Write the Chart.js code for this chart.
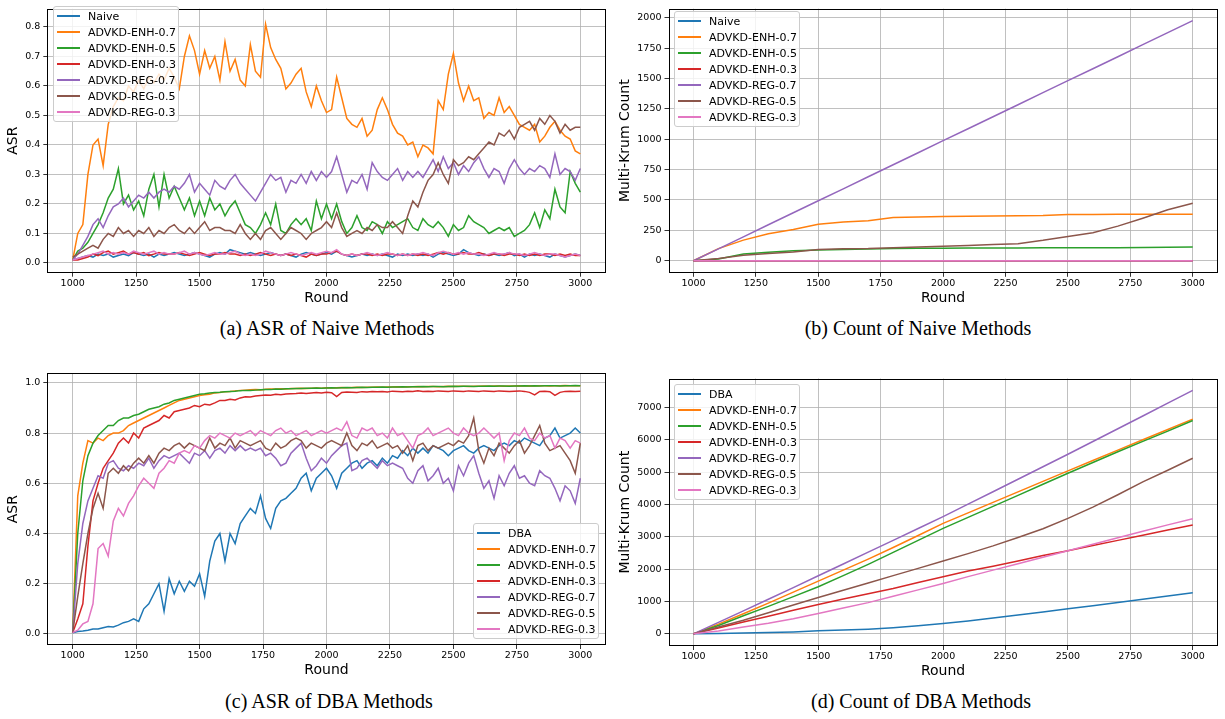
<!DOCTYPE html>
<html>
<head>
<meta charset="utf-8">
<script src="https://cdn.jsdelivr.net/npm/chart.js@4.4.1/dist/chart.umd.min.js"></script>
<style>
  body { margin: 0; background: #fff; width: 1225px; height: 719px; position: relative; overflow: hidden; }
  .panel { position: absolute; }
  .legend { position: absolute; width: 126px; height: 116px; box-sizing: border-box; padding-top: 1px;
            background: rgba(255,255,255,0.8); border: 1px solid #cccccc; border-radius: 3px;
            font-family: "DejaVu Sans"; font-size: 11px; color: #000; }
  .legend .row { height: 16px; display: flex; align-items: center; white-space: nowrap; }
  .legend .swatch { display: block; flex: none; width: 23px; height: 2px; margin-left: 3px; margin-right: 8px; }
  .caption { position: absolute; font-family: "Liberation Serif"; font-size: 20px; color: #000;
             transform: translate(-50%, -50%); white-space: nowrap; }
</style>
</head>
<body>
<div class="panel" style="left:0px;top:0px"><canvas id="chartA" width="612" height="312"></canvas></div>
<div class="panel" style="left:612px;top:0px"><canvas id="chartB" width="613" height="312"></canvas></div>
<div class="panel" style="left:0px;top:362px"><canvas id="chartC" width="612" height="322"></canvas></div>
<div class="panel" style="left:612px;top:362px"><canvas id="chartD" width="613" height="323"></canvas></div>
<div class="legend" id="legA" style="left:53px;top:6px"></div>
<div class="legend" id="legB" style="left:674px;top:11px"></div>
<div class="legend" id="legC" style="left:473px;top:523px"></div>
<div class="legend" id="legD" style="left:674px;top:384px"></div>
<div class="caption" style="left:327px;top:328px">(a) ASR of Naive Methods</div>
<div class="caption" style="left:918px;top:328px">(b) Count of Naive Methods</div>
<div class="caption" style="left:329px;top:701px">(c) ASR of DBA Methods</div>
<div class="caption" style="left:921px;top:701px">(d) Count of DBA Methods</div>
<script>
// rounds: ASR sampled every 20 rounds, counts every 100 rounds
const roundsFine = [];
for (let r = 1000; r <= 3000; r += 20) roundsFine.push(r);
const roundsCoarse = [];
for (let r = 1000; r <= 3000; r += 100) roundsCoarse.push(r);

const roundTicks = [1000, 1250, 1500, 1750, 2000, 2250, 2500, 2750, 3000];
const asrTicksA = [0, 0.1, 0.2, 0.3, 0.4, 0.5, 0.6, 0.7, 0.8];
const asrTicksC = [0, 0.2, 0.4, 0.6, 0.8, 1.0];
const countTicksB = [0, 250, 500, 750, 1000, 1250, 1500, 1750, 2000];
const countTicksD = [0, 1000, 2000, 3000, 4000, 5000, 6000, 7000];

const colors = ['#1f77b4', '#ff7f0e', '#2ca02c', '#d62728', '#9467bd', '#8c564b', '#e377c2'];
const namesNaive = ['Naive', 'ADVKD-ENH-0.7', 'ADVKD-ENH-0.5', 'ADVKD-ENH-0.3', 'ADVKD-REG-0.7', 'ADVKD-REG-0.5', 'ADVKD-REG-0.3'];
const namesDba = ['DBA', 'ADVKD-ENH-0.7', 'ADVKD-ENH-0.5', 'ADVKD-ENH-0.3', 'ADVKD-REG-0.7', 'ADVKD-REG-0.5', 'ADVKD-REG-0.3'];

// (a) ASR of naive methods
const naiveAsr = [
  0.01, 0.015, 0.02, 0.025, 0.02, 0.03, 0.025, 0.03, 0.02, 0.025,
  0.03, 0.025, 0.035, 0.03, 0.025, 0.03, 0.02, 0.03, 0.025, 0.03,
  0.035, 0.03, 0.025, 0.03, 0.035, 0.03, 0.025, 0.02, 0.03, 0.035,
  0.03, 0.045, 0.04, 0.035, 0.03, 0.035, 0.03, 0.025, 0.03, 0.035,
  0.03, 0.025, 0.03, 0.025, 0.02, 0.03, 0.035, 0.03, 0.025, 0.03,
  0.035, 0.03, 0.04, 0.03, 0.025, 0.02, 0.025, 0.03, 0.025, 0.03,
  0.025, 0.03, 0.025, 0.02, 0.03, 0.025, 0.03, 0.025, 0.03, 0.025,
  0.03, 0.02, 0.03, 0.035, 0.03, 0.025, 0.03, 0.045, 0.035, 0.03,
  0.025, 0.03, 0.025, 0.03, 0.025, 0.03, 0.035, 0.025, 0.03, 0.02,
  0.03, 0.025, 0.03, 0.025, 0.02, 0.03, 0.025, 0.02, 0.025, 0.03,
  0.025];
const enh07Asr = [
  0.01, 0.10, 0.13, 0.30, 0.40, 0.42, 0.33, 0.47, 0.53, 0.56,
  0.55, 0.60, 0.58, 0.62, 0.59, 0.63, 0.61, 0.64, 0.62, 0.66,
  0.63, 0.59, 0.70, 0.77, 0.72, 0.64, 0.72, 0.66, 0.70, 0.62,
  0.75, 0.65, 0.69, 0.62, 0.60, 0.74, 0.65, 0.63, 0.81, 0.73,
  0.69, 0.66, 0.59, 0.61, 0.64, 0.66, 0.58, 0.53, 0.60, 0.55,
  0.51, 0.52, 0.63, 0.56, 0.49, 0.47, 0.46, 0.49, 0.43, 0.45,
  0.52, 0.56, 0.52, 0.47, 0.44, 0.43, 0.40, 0.41, 0.36, 0.40,
  0.39, 0.37, 0.55, 0.52, 0.64, 0.71, 0.61, 0.55, 0.60, 0.55,
  0.56, 0.49, 0.51, 0.50, 0.56, 0.51, 0.53, 0.50, 0.47, 0.46,
  0.45, 0.47, 0.41, 0.43, 0.46, 0.48, 0.45, 0.43, 0.42, 0.38,
  0.37];
const enh05Asr = [
  0.01, 0.04, 0.05, 0.07, 0.10, 0.13, 0.17, 0.22, 0.25, 0.32,
  0.20, 0.23, 0.18, 0.21, 0.16, 0.25, 0.30, 0.19, 0.30, 0.22,
  0.26, 0.22, 0.18, 0.22, 0.16, 0.21, 0.16, 0.22, 0.18, 0.20,
  0.16, 0.19, 0.21, 0.17, 0.13, 0.12, 0.10, 0.13, 0.17, 0.13,
  0.20, 0.11, 0.10, 0.13, 0.15, 0.13, 0.15, 0.11, 0.21, 0.15,
  0.20, 0.15, 0.20, 0.14, 0.10, 0.12, 0.16, 0.12, 0.11, 0.14,
  0.13, 0.10, 0.14, 0.12, 0.13, 0.14, 0.15, 0.12, 0.11, 0.15,
  0.13, 0.12, 0.14, 0.12, 0.09, 0.13, 0.11, 0.12, 0.16, 0.14,
  0.13, 0.12, 0.10, 0.11, 0.12, 0.11, 0.12, 0.09, 0.10, 0.11,
  0.13, 0.17, 0.12, 0.18, 0.15, 0.25, 0.19, 0.17, 0.31, 0.27,
  0.24];
const enh03Asr = [
  0.01, 0.01, 0.015, 0.02, 0.03, 0.025, 0.035, 0.04, 0.03, 0.035,
  0.04, 0.03, 0.035, 0.03, 0.035, 0.025, 0.03, 0.035, 0.03, 0.03,
  0.03, 0.035, 0.03, 0.025, 0.03, 0.035, 0.03, 0.025, 0.03, 0.03,
  0.035, 0.03, 0.03, 0.025, 0.03, 0.025, 0.03, 0.035, 0.03, 0.025,
  0.03, 0.025, 0.03, 0.025, 0.03, 0.025, 0.02, 0.03, 0.025, 0.03,
  0.03, 0.035, 0.04, 0.03, 0.025, 0.03, 0.025, 0.03, 0.03, 0.025,
  0.03, 0.025, 0.03, 0.03, 0.025, 0.03, 0.025, 0.03, 0.025, 0.03,
  0.025, 0.03, 0.035, 0.03, 0.035, 0.03, 0.03, 0.035, 0.03, 0.03,
  0.035, 0.03, 0.025, 0.03, 0.03, 0.025, 0.03, 0.03, 0.025, 0.03,
  0.025, 0.03, 0.025, 0.03, 0.03, 0.025, 0.03, 0.025, 0.03, 0.025,
  0.025];
const reg07Asr = [
  0.01, 0.03, 0.06, 0.09, 0.13, 0.15, 0.12, 0.16, 0.19, 0.20,
  0.22, 0.19, 0.21, 0.23, 0.22, 0.24, 0.22, 0.24, 0.25, 0.24,
  0.26, 0.25, 0.27, 0.30, 0.24, 0.27, 0.25, 0.23, 0.28, 0.26,
  0.25, 0.28, 0.30, 0.27, 0.25, 0.23, 0.21, 0.24, 0.27, 0.30,
  0.28, 0.29, 0.24, 0.28, 0.27, 0.30, 0.27, 0.31, 0.28, 0.31,
  0.29, 0.31, 0.36, 0.30, 0.24, 0.28, 0.27, 0.30, 0.25, 0.34,
  0.31, 0.29, 0.28, 0.30, 0.32, 0.28, 0.31, 0.29, 0.31, 0.29,
  0.32, 0.35, 0.31, 0.36, 0.32, 0.34, 0.30, 0.33, 0.31, 0.34,
  0.36, 0.32, 0.29, 0.32, 0.31, 0.27, 0.32, 0.35, 0.32, 0.30,
  0.32, 0.31, 0.33, 0.32, 0.29, 0.37, 0.30, 0.32, 0.31, 0.28,
  0.32];
const reg05Asr = [
  0.02, 0.03, 0.04, 0.05, 0.06, 0.05, 0.08, 0.10, 0.09, 0.12,
  0.10, 0.11, 0.09, 0.11, 0.10, 0.12, 0.09, 0.11, 0.10, 0.12,
  0.13, 0.11, 0.10, 0.12, 0.10, 0.12, 0.14, 0.11, 0.12, 0.12,
  0.11, 0.11, 0.10, 0.13, 0.10, 0.08, 0.10, 0.08, 0.11, 0.12,
  0.10, 0.08, 0.10, 0.12, 0.11, 0.10, 0.08, 0.10, 0.11, 0.12,
  0.14, 0.12, 0.17, 0.12, 0.09, 0.10, 0.11, 0.10, 0.12, 0.11,
  0.13, 0.12, 0.12, 0.14, 0.12, 0.10, 0.16, 0.21, 0.19, 0.24,
  0.28, 0.30, 0.34, 0.30, 0.27, 0.35, 0.33, 0.34, 0.36, 0.35,
  0.37, 0.39, 0.41, 0.40, 0.44, 0.43, 0.45, 0.42, 0.46, 0.47,
  0.48, 0.45, 0.49, 0.47, 0.50, 0.48, 0.44, 0.47, 0.45, 0.46,
  0.46];
const reg03Asr = [
  0.01, 0.015, 0.02, 0.025, 0.03, 0.035, 0.04, 0.03, 0.035, 0.03,
  0.035, 0.03, 0.04, 0.035, 0.03, 0.035, 0.04, 0.03, 0.035, 0.03,
  0.03, 0.035, 0.04, 0.03, 0.035, 0.03, 0.025, 0.03, 0.035, 0.03,
  0.03, 0.035, 0.04, 0.03, 0.025, 0.03, 0.025, 0.03, 0.04, 0.035,
  0.03, 0.025, 0.03, 0.035, 0.03, 0.025, 0.03, 0.035, 0.03, 0.035,
  0.04, 0.035, 0.045, 0.03, 0.025, 0.03, 0.025, 0.03, 0.035, 0.03,
  0.025, 0.03, 0.035, 0.03, 0.025, 0.03, 0.025, 0.03, 0.03, 0.035,
  0.03, 0.025, 0.035, 0.04, 0.035, 0.03, 0.035, 0.03, 0.035, 0.03,
  0.03, 0.025, 0.03, 0.035, 0.03, 0.03, 0.035, 0.03, 0.03, 0.025,
  0.03, 0.035, 0.03, 0.025, 0.03, 0.03, 0.025, 0.02, 0.025, 0.03,
  0.025];

// (b) Multi-Krum count of naive methods
const naiveCount = [0, 0, 0, 0, 0, 0, 0, 0, 0, 0, 0, 0, 0, 0, 0, 0, 0, 0, 0, 0, 0];
const enh07CountN = [0, 100, 170, 222, 258, 300, 318, 330, 356, 360, 364, 366, 368, 370, 372, 380, 381, 382, 382, 382, 382];
const enh05CountN = [0, 14, 55, 70, 82, 88, 92, 96, 100, 102, 104, 105, 106, 106, 107, 107, 108, 108, 109, 111, 114];
const enh03CountN = [0, 0, 0, 0, 0, 0, 0, 0, 0, 0, 0, 0, 0, 0, 0, 0, 0, 0, 0, 0, 0];
const reg07CountN = [0, 98, 197, 296, 395, 494, 592, 691, 790, 889, 988, 1086, 1185, 1284, 1383, 1482, 1580, 1679, 1778, 1877, 1976];
const reg05CountN = [0, 19, 46, 60, 73, 92, 98, 100, 108, 114, 119, 125, 133, 141, 168, 200, 230, 285, 350, 420, 474];
const reg03CountN = [0, 0, 0, 0, 0, 0, 0, 0, 0, 0, 0, 0, 0, 0, 0, 0, 0, 0, 0, 0, 0];

// (c) ASR of DBA methods
const dbaAsr = [
  0.005, 0.01, 0.012, 0.015, 0.02, 0.02, 0.025, 0.03, 0.028, 0.035,
  0.045, 0.05, 0.06, 0.05, 0.10, 0.12, 0.16, 0.20, 0.09, 0.22,
  0.16, 0.21, 0.17, 0.21, 0.19, 0.24, 0.15, 0.29, 0.37, 0.40,
  0.29, 0.40, 0.36, 0.44, 0.47, 0.50, 0.48, 0.55, 0.46, 0.42,
  0.50, 0.53, 0.54, 0.56, 0.58, 0.62, 0.64, 0.57, 0.62, 0.64,
  0.66, 0.63, 0.58, 0.64, 0.66, 0.68, 0.69, 0.66, 0.68, 0.69,
  0.67, 0.70, 0.68, 0.71, 0.70, 0.73, 0.71, 0.74, 0.72, 0.74,
  0.72, 0.75, 0.74, 0.73, 0.71, 0.73, 0.74, 0.75, 0.73, 0.72,
  0.74, 0.75, 0.74, 0.73, 0.75, 0.76, 0.75, 0.77, 0.76, 0.78,
  0.77, 0.76, 0.75, 0.78, 0.79, 0.82, 0.78, 0.79, 0.80, 0.82,
  0.80];
const enh07AsrD = [
  0.005, 0.55, 0.68, 0.77, 0.76, 0.78, 0.77, 0.79, 0.80, 0.80,
  0.81, 0.83, 0.84, 0.85, 0.86, 0.87, 0.88, 0.89, 0.90, 0.91,
  0.92, 0.93, 0.935, 0.94, 0.945, 0.95, 0.953, 0.955, 0.96, 0.962,
  0.965, 0.966, 0.968, 0.97, 0.971, 0.972, 0.973, 0.972, 0.974, 0.975,
  0.975, 0.976, 0.975, 0.977, 0.977, 0.978, 0.977, 0.978, 0.979, 0.978,
  0.98, 0.979, 0.98, 0.981, 0.98, 0.981, 0.982, 0.981, 0.982, 0.982,
  0.983, 0.982, 0.983, 0.983, 0.984, 0.983, 0.984, 0.984, 0.985, 0.984,
  0.985, 0.985, 0.984, 0.985, 0.986, 0.985, 0.986, 0.986, 0.985, 0.986,
  0.986, 0.987, 0.986, 0.987, 0.987, 0.986, 0.987, 0.987, 0.988, 0.987,
  0.988, 0.987, 0.988, 0.988, 0.987, 0.988, 0.988, 0.989, 0.988, 0.988,
  0.988];
const enh05AsrD = [
  0.005, 0.40, 0.61, 0.71, 0.76, 0.79, 0.81, 0.83, 0.83, 0.85,
  0.86, 0.86, 0.87, 0.875, 0.885, 0.895, 0.90, 0.905, 0.915, 0.92,
  0.93, 0.935, 0.94, 0.945, 0.95, 0.955, 0.957, 0.96, 0.962, 0.963,
  0.965, 0.966, 0.967, 0.969, 0.97, 0.97, 0.971, 0.972, 0.973, 0.973,
  0.975, 0.974, 0.976, 0.976, 0.977, 0.977, 0.978, 0.978, 0.979, 0.978,
  0.979, 0.98, 0.979, 0.98, 0.981, 0.98, 0.981, 0.982, 0.981, 0.982,
  0.982, 0.983, 0.982, 0.983, 0.983, 0.984, 0.983, 0.984, 0.984, 0.985,
  0.984, 0.985, 0.985, 0.984, 0.985, 0.986, 0.985, 0.986, 0.986, 0.985,
  0.986, 0.986, 0.987, 0.986, 0.987, 0.987, 0.986, 0.987, 0.987, 0.988,
  0.987, 0.988, 0.987, 0.988, 0.988, 0.988, 0.987, 0.988, 0.988, 0.989,
  0.988];
const enh03AsrD = [
  0.005, 0.06, 0.12, 0.35, 0.53, 0.60, 0.66, 0.69, 0.72, 0.76,
  0.78, 0.76, 0.80, 0.78, 0.82, 0.83, 0.84, 0.85, 0.87, 0.86,
  0.885, 0.89, 0.895, 0.90, 0.91, 0.905, 0.915, 0.912, 0.92, 0.93,
  0.93, 0.935, 0.932, 0.94, 0.945, 0.944, 0.948, 0.95, 0.952, 0.951,
  0.955, 0.953, 0.956, 0.957, 0.958, 0.96, 0.958, 0.96, 0.962, 0.96,
  0.963, 0.961, 0.945, 0.962, 0.964, 0.963, 0.962, 0.965, 0.964, 0.966,
  0.965, 0.966, 0.964, 0.967, 0.966, 0.965, 0.967, 0.966, 0.968, 0.966,
  0.967, 0.966, 0.968, 0.967, 0.966, 0.968, 0.967, 0.966, 0.968, 0.967,
  0.966, 0.968, 0.967, 0.966, 0.968, 0.967, 0.966, 0.967, 0.968, 0.966,
  0.962, 0.952, 0.966, 0.967, 0.965, 0.95, 0.962, 0.966, 0.967, 0.966,
  0.967];
const reg07AsrD = [
  0.005, 0.28, 0.44, 0.53, 0.58, 0.63, 0.62, 0.68, 0.69, 0.66,
  0.65, 0.67, 0.66, 0.68, 0.67, 0.70, 0.66, 0.69, 0.71, 0.70,
  0.71, 0.72, 0.70, 0.68, 0.72, 0.71, 0.73, 0.70, 0.73, 0.74,
  0.72, 0.75, 0.73, 0.75, 0.73, 0.74, 0.73, 0.74, 0.71, 0.72,
  0.70, 0.67, 0.68, 0.72, 0.74, 0.76, 0.70, 0.65, 0.67, 0.70,
  0.68, 0.71, 0.73, 0.75, 0.76, 0.65, 0.66, 0.69, 0.70, 0.68,
  0.66, 0.69, 0.67, 0.68, 0.67, 0.66, 0.62, 0.60, 0.65, 0.67,
  0.61, 0.63, 0.66, 0.60, 0.62, 0.57, 0.67, 0.63, 0.68, 0.71,
  0.64, 0.58, 0.61, 0.54, 0.63, 0.59, 0.64, 0.67, 0.62, 0.63,
  0.60, 0.59, 0.65, 0.63, 0.62, 0.58, 0.53, 0.59, 0.57, 0.52,
  0.62];
const reg05AsrD = [
  0.005, 0.15, 0.28, 0.40, 0.50, 0.56, 0.50, 0.64, 0.66, 0.64,
  0.67, 0.65, 0.68, 0.70, 0.68, 0.71, 0.68, 0.72, 0.74, 0.73,
  0.75, 0.76, 0.74, 0.76, 0.75, 0.74, 0.73, 0.78, 0.74, 0.76,
  0.75, 0.78, 0.74, 0.77, 0.76, 0.75, 0.76, 0.77, 0.74, 0.73,
  0.76, 0.74, 0.75, 0.77, 0.78, 0.77, 0.74, 0.76, 0.75, 0.74,
  0.76, 0.77, 0.76, 0.75, 0.80, 0.75, 0.73, 0.76, 0.75, 0.77,
  0.74, 0.75, 0.76, 0.74, 0.75, 0.72, 0.75, 0.69, 0.75, 0.76,
  0.73, 0.75, 0.74, 0.75, 0.76, 0.75, 0.77, 0.76, 0.79, 0.86,
  0.73, 0.68, 0.74, 0.71, 0.76, 0.74, 0.72, 0.75, 0.77, 0.72,
  0.75, 0.79, 0.83, 0.76, 0.73, 0.74, 0.75, 0.72, 0.69, 0.64,
  0.76];
const reg03AsrD = [
  0.005, 0.015, 0.04, 0.05, 0.12, 0.34, 0.36, 0.31, 0.45, 0.50,
  0.47, 0.52, 0.55, 0.59, 0.62, 0.60, 0.58, 0.64, 0.66, 0.69,
  0.68, 0.72, 0.73, 0.72, 0.75, 0.74, 0.77, 0.79, 0.78, 0.80,
  0.79, 0.78, 0.80, 0.79, 0.80, 0.81, 0.79, 0.81, 0.80, 0.79,
  0.81, 0.82, 0.80, 0.81, 0.79, 0.80, 0.81, 0.79, 0.80, 0.81,
  0.80, 0.81, 0.82, 0.81, 0.845, 0.79, 0.78, 0.82, 0.81, 0.82,
  0.79, 0.80, 0.78, 0.82, 0.79, 0.80, 0.77, 0.74, 0.79, 0.80,
  0.82, 0.79, 0.80, 0.81, 0.82, 0.80, 0.79, 0.82, 0.80, 0.79,
  0.80, 0.82, 0.80, 0.78, 0.80, 0.69, 0.77, 0.80, 0.79, 0.82,
  0.78, 0.77, 0.80, 0.78, 0.79, 0.74, 0.78, 0.77, 0.74, 0.77,
  0.76];

// (d) Multi-Krum count of DBA methods
const dbaCount = [0, 10, 25, 40, 60, 93, 115, 145, 190, 250, 320, 400, 490, 580, 675, 774, 870, 970, 1070, 1170, 1270];
const enh07CountD = [0, 300, 620, 950, 1290, 1631, 1970, 2310, 2670, 3040, 3417, 3740, 4065, 4390, 4715, 5038, 5360, 5680, 6000, 6320, 6638];
const enh05CountD = [0, 260, 560, 850, 1150, 1456, 1800, 2150, 2520, 2890, 3262, 3600, 3940, 4280, 4625, 4966, 5300, 5630, 5950, 6270, 6597];
const enh03CountD = [0, 180, 365, 545, 730, 909, 1080, 1240, 1400, 1590, 1765, 1940, 2090, 2250, 2420, 2571, 2730, 2890, 3050, 3210, 3366];
const reg07CountD = [0, 355, 710, 1070, 1430, 1796, 2160, 2525, 2890, 3257, 3624, 4010, 4395, 4780, 5168, 5554, 5948, 6342, 6737, 7132, 7527];
const reg05CountD = [0, 210, 420, 650, 890, 1125, 1350, 1570, 1800, 2025, 2251, 2480, 2720, 2980, 3250, 3572, 3920, 4300, 4700, 5060, 5430];
const reg03CountD = [0, 90, 210, 330, 470, 630, 800, 965, 1160, 1360, 1559, 1770, 1970, 2170, 2370, 2571, 2770, 2970, 3170, 3370, 3562];

const frame = {
  id: 'frame',
  afterDatasetsDraw(chart) {
    const { ctx, chartArea: a } = chart;
    const l = Math.round(a.left) + 0.5, t = Math.round(a.top) + 0.5;
    const r = Math.round(a.right) - 0.5, b = Math.round(a.bottom) - 0.5;
    ctx.save();
    ctx.strokeStyle = '#000';
    ctx.lineWidth = 1;
    ctx.strokeRect(l, t, r - l, b - t);
    ctx.restore();
  }
};

function makeChart(id, xs, names, series, p) {
  const n = series.length;
  const datasets = series.map((vals, i) => ({
    label: names[i],
    data: xs.map((x, k) => ({ x: x, y: vals[k] })),
    borderColor: colors[i],
    borderWidth: 1.5,
    pointRadius: 0,
    fill: false,
    tension: 0,
    order: n - i
  }));
  const tickFont = { family: 'DejaVu Sans', size: 9.5 };
  const titleFont = { family: 'DejaVu Sans', size: 14 };
  new Chart(document.getElementById(id), {
    type: 'line',
    data: { datasets: datasets },
    options: {
      responsive: false,
      animation: false,
      layout: { padding: { left: 0, right: p.padRight, top: p.padTop, bottom: 0 } },
      plugins: { legend: { display: false }, tooltip: { enabled: false } },
      scales: {
        x: {
          type: 'linear', min: 900, max: 3100,
          afterBuildTicks: s => { s.ticks = roundTicks.map(v => ({ value: v })); },
          afterFit: s => { s.height = p.xHeight; },
          ticks: { autoSkip: false, maxRotation: 0, padding: 1, color: '#000', font: tickFont,
                   callback: v => String(v) },
          grid: { color: '#b0b0b0', lineWidth: 0.8, tickColor: '#000', tickLength: 4 },
          border: { display: false },
          title: { display: true, text: 'Round', color: '#000', font: titleFont, padding: { top: 0, bottom: 5.6 } }
        },
        y: {
          type: 'linear', min: p.yMin, max: p.yMax,
          afterBuildTicks: s => { s.ticks = p.yTicks.map(v => ({ value: v })); },
          afterFit: s => { s.width = p.yWidth; },
          ticks: { autoSkip: false, padding: 3, color: '#000', font: tickFont, callback: p.yFmt },
          grid: { color: '#b0b0b0', lineWidth: 0.8, tickColor: '#000', tickLength: 4 },
          border: { display: false },
          title: { display: true, text: p.yTitle, color: '#000', font: titleFont, padding: { top: 4.6, bottom: 0 } }
        }
      }
    },
    plugins: [frame]
  });
}

function makeLegend(id, names) {
  const box = document.getElementById(id);
  names.forEach((name, i) => {
    const row = document.createElement('div');
    row.className = 'row';
    const sw = document.createElement('span');
    sw.className = 'swatch';
    sw.style.backgroundColor = colors[i];
    const tx = document.createElement('span');
    tx.textContent = name;
    row.appendChild(sw);
    row.appendChild(tx);
    box.appendChild(row);
  });
}

const fmt1 = v => v.toFixed(1);
const fmt0 = v => String(v);

makeChart('chartA', roundsFine, namesNaive,
  [naiveAsr, enh07Asr, enh05Asr, enh03Asr, reg07Asr, reg05Asr, reg03Asr],
  { padTop: 0.5, padRight: 6.3, yWidth: 47.3, xHeight: 39.3, yMin: -0.033, yMax: 0.862,
    yTicks: asrTicksA, yFmt: fmt1, yTitle: 'ASR' });
makeChart('chartB', roundsCoarse, namesNaive,
  [naiveCount, enh07CountN, enh05CountN, enh03CountN, reg07CountN, reg05CountN, reg03CountN],
  { padTop: 5.5, padRight: 7.3, yWidth: 56.5, xHeight: 39.2, yMin: -99, yMax: 2074,
    yTicks: countTicksB, yFmt: fmt0, yTitle: 'Multi-Krum Count' });
makeChart('chartC', roundsFine, namesDba,
  [dbaAsr, enh07AsrD, enh05AsrD, enh03AsrD, reg07AsrD, reg05AsrD, reg03AsrD],
  { padTop: 11.3, padRight: 6.3, yWidth: 47.3, xHeight: 39, yMin: -0.044, yMax: 1.038,
    yTicks: asrTicksC, yFmt: fmt1, yTitle: 'ASR' });
makeChart('chartD', roundsCoarse, namesDba,
  [dbaCount, enh07CountD, enh05CountD, enh03CountD, reg07CountD, reg05CountD, reg03CountD],
  { padTop: 16.5, padRight: 7.3, yWidth: 56.5, xHeight: 39, yMin: -376, yMax: 7896,
    yTicks: countTicksD, yFmt: fmt0, yTitle: 'Multi-Krum Count' });

makeLegend('legA', namesNaive);
makeLegend('legB', namesNaive);
makeLegend('legC', namesDba);
makeLegend('legD', namesDba);
</script>
</body>
</html>
